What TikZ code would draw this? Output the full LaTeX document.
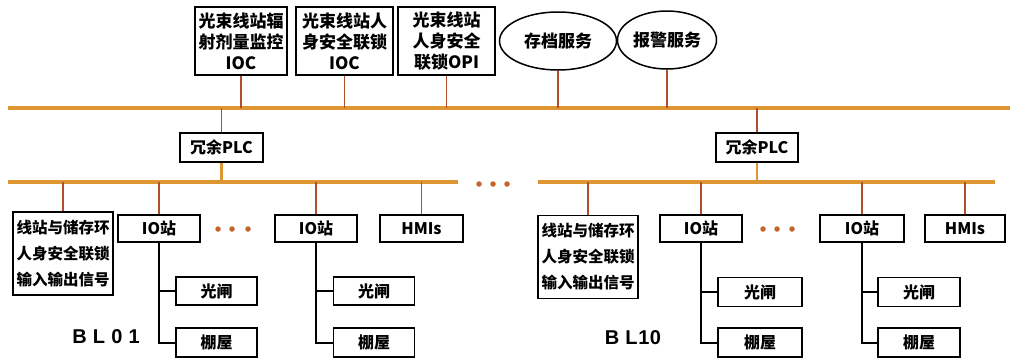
\documentclass[tikz,border=0pt]{standalone}
\usepackage{fontspec}
\newfontfamily\cjk{Noto Sans CJK SC}
\newfontfamily\blfont[LetterSpace=3]{Liberation Sans}
\usepackage{tikz}
\usetikzlibrary{positioning,shapes.geometric,calc}

\definecolor{busgold}{RGB}{222,150,50}
\definecolor{tapred}{RGB}{178,78,44}
\definecolor{dotbrown}{RGB}{198,100,42}

\begin{document}
\begin{tikzpicture}[x=1pt,y=-1pt,
  box/.style={rectangle,draw,line width=1.5pt,fill=white,inner sep=0pt,align=center,minimum width=#1,minimum height=27pt,font=\cjk\bfseries\fontsize{16}{26}\selectfont},
  box/.default=82pt,
  topbox/.style={box=#1,minimum height=68pt,font=\cjk\bfseries\fontsize{17}{21}\selectfont},
  svc/.style={ellipse,draw,line width=1.5pt,fill=white,inner sep=0pt,minimum width=#1,minimum height=58pt,font=\cjk\bfseries\fontsize{17}{20}\selectfont},
  bus/.style={line width=4pt,busgold},
  tap/.style={line width=1.7pt,tapred},
  tree/.style={line width=2pt,black},
  dotn/.style={circle,fill=dotbrown,inner sep=0pt,minimum size=5.5pt},
  bl/.style={font=\blfont\bfseries\fontsize{20}{20}\selectfont},
]
\useasboundingbox (0,0) rectangle (1010,362);

% Top bus
\coordinate (topL) at (8,108);
\coordinate (topR) at (1010,108);
\draw[bus] (topL) -- (topR);

% Top: IOCs, OPI and services
\node[topbox=92pt] (rad) at (241,41) {光束线站辐\\射剂量监控\\IOC};
\node[topbox=97pt] (pss) at (344.5,41) {光束线站人\\身安全联锁\\IOC};
\node[topbox=97pt] (opi) at (446.5,41) {光束线站\\人身安全\\联锁OPI};
\node[svc=117pt] (arch) at (558,41) {存档服务};
\node[svc=99pt] (alarm) at (667,40) {报警服务};
\foreach \n in {rad,pss,opi,arch,alarm}
  \draw[tap] (\n.south) -- (\n.south |- topL);

% BL01: PLC and its bus
\node[box=83pt,minimum height=29pt] (plcA) at (221.5,147.5) {冗余PLC};
\coordinate (busAL) at (8,182);
\coordinate (busAR) at (458,182);
\draw[bus] (busAL) -- (busAR);
\draw[tap] (plcA.north) -- (plcA.north |- topL);
\draw[line width=2.2pt,busgold] (plcA.south) -- (plcA.south |- busAL);

% BL01: stations
\node[box=100pt,minimum height=83pt,font=\cjk\bfseries\fontsize{15.5}{26}\selectfont] (sigA) at (63,253.5) {线站与储存环\\人身安全联锁\\输入输出信号};
\node[box] (ioA) at (159,228.5) {IO站};
\node[box] (ioB) at (316,228.5) {IO站};
\node[box=83pt] (hmiA) at (421.5,228.5) {HMIs};
\foreach \x [count=\k] in {218,232,248}
  \node[dotn] (dA\k) at (\x,229) {};
\node[box=81pt,minimum height=28pt] (gzA) at (216.5,291) {光闸};
\node[box=81pt,minimum height=29pt] (pwA) at (216.5,342.5) {棚屋};
\node[box=81pt,minimum height=28pt] (gzB) at (374,291) {光闸};
\node[box=81pt,minimum height=29pt] (pwB) at (374,342.5) {棚屋};
\node[bl] (blA) at (106,337) {B L 0 1};

% Between the lines
\foreach \x [count=\k] in {479,493,507}
  \node[dotn] (dM\k) at (\x,184) {};

% BL10: PLC and its bus
\node[box=82pt,minimum height=29pt] (plcB) at (757,147.5) {冗余PLC};
\coordinate (busBL) at (538,182);
\coordinate (busBR) at (995,182);
\draw[bus] (busBL) -- (busBR);
\draw[tap] (plcB.north) -- (plcB.north |- topL);
\draw[line width=2.2pt,busgold] (plcB.south) -- (plcB.south |- busBL);

% BL10: stations
\node[box=100pt,minimum height=83pt,font=\cjk\bfseries\fontsize{15.5}{26}\selectfont] (sigB) at (588,257) {线站与储存环\\人身安全联锁\\输入输出信号};
\node[box] (ioC) at (701,228.5) {IO站};
\node[box=84pt] (ioD) at (862,228.5) {IO站};
\node[box=80pt] (hmiB) at (965,228.5) {HMIs};
\foreach \x [count=\k] in {763,777,792}
  \node[dotn] (dB\k) at (\x,229) {};
\node[box=84pt,minimum height=29pt] (gzC) at (760,292) {光闸};
\node[box=84pt,minimum height=29pt] (pwC) at (760,342.5) {棚屋};
\node[box=82pt,minimum height=29pt] (gzD) at (919,292) {光闸};
\node[box=82pt,minimum height=29pt] (pwD) at (919,342.5) {棚屋};
\node[bl] (blB) at (633,338) {B L10};

% Taps onto the lower buses
\foreach \n in {sigA,ioA,ioB,hmiA}
  \draw[tap] (\n.north) -- (\n.north |- busAL);
\foreach \n in {sigB,ioC,ioD,hmiB}
  \draw[tap] (\n.north) -- (\n.north |- busBL);

% IO station trees
\foreach \i/\g/\p in {ioA/gzA/pwA,ioB/gzB/pwB,ioC/gzC/pwC,ioD/gzD/pwD}{
  \draw[tree] (\i.south) |- (\p.west);
  \draw[tree] (\i.south |- \g.west) -- (\g.west);
}
\end{tikzpicture}
\end{document}
